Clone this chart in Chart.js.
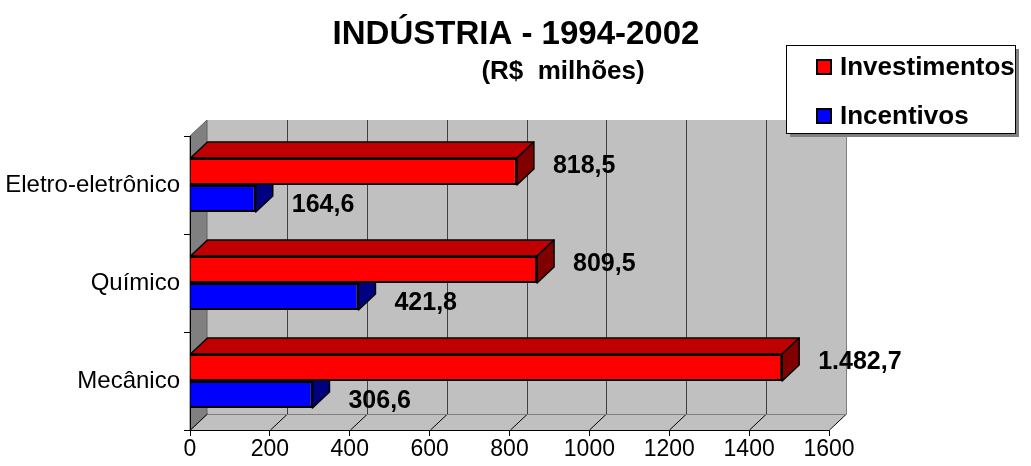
<!DOCTYPE html>
<html>
<head>
<meta charset="utf-8">
<script src="https://cdn.jsdelivr.net/npm/chart.js@4/dist/chart.umd.min.js"></script>
<style>
  html, body { margin: 0; padding: 0; background: #fff; }
  #wrap { width: 1031px; height: 466px; position: relative; }
</style>
</head>
<body>
<div id="wrap"><canvas id="industriaChart"></canvas></div>
<script>
// dados (R$ milhões)
const categorias = ["Eletro-eletrônico", "Químico", "Mecânico"];
const investimentos = [818.5, 869, 1482.7];   // comprimento das barras como desenhadas
const incentivos = [164.6, 421.8, 306.6];
const rotulosInvest = ["818,5", "809,5", "1.482,7"];
const rotulosIncent = ["164,6", "421,8", "306,6"];
const eixoMin = 0;
const eixoMax = 1600;
const eixoPasso = 200;

const FONTE = "'Liberation Sans', Arial, sans-serif";
const PROF = { dx: 17, dy: -16 };

const paredes = {
    id: "paredes",
    beforeDraw(chart) {
        const c = chart.ctx;
        const a = chart.chartArea;
        const xs = chart.scales.x;
        const { dx, dy } = PROF;

        c.save();
        c.fillStyle = "#fff";
        c.fillRect(0, 0, chart.width, chart.height);

        // parede do fundo
        c.fillStyle = "#C0C0C0";
        c.fillRect(a.left + dx, a.top + dy, a.right - a.left, a.bottom - a.top);

        // piso
        c.beginPath();
        c.moveTo(a.left, a.bottom);
        c.lineTo(a.right, a.bottom);
        c.lineTo(a.right + dx, a.bottom + dy);
        c.lineTo(a.left + dx, a.bottom + dy);
        c.closePath();
        c.fillStyle = "#C0C0C0";
        c.fill();

        // parede lateral
        c.beginPath();
        c.moveTo(a.left, a.top);
        c.lineTo(a.left + dx, a.top + dy);
        c.lineTo(a.left + dx, a.bottom + dy);
        c.lineTo(a.left, a.bottom);
        c.closePath();
        c.fillStyle = "#808080";
        c.fill();
        c.strokeStyle = "#606060";
        c.lineWidth = 1;
        c.stroke();

        // linhas de grade
        c.lineWidth = 1;
        xs.ticks.forEach(t => {
            const px = Math.round(xs.getPixelForValue(t.value)) + 0.5;
            if (t.value > eixoMin) {
                c.strokeStyle = t.value === eixoMax ? "#808080" : "#404040";
                c.beginPath();
                c.moveTo(px + dx, a.top + dy);
                c.lineTo(px + dx, a.bottom + dy);
                c.stroke();
            }
            c.strokeStyle = "#000";
            c.beginPath();
            c.moveTo(px, a.bottom);
            c.lineTo(px + dx, a.bottom + dy);
            c.stroke();
        });

        c.strokeStyle = "#808080";
        c.beginPath();
        c.moveTo(a.left + dx, a.bottom + dy + 0.5);
        c.lineTo(a.right + dx, a.bottom + dy + 0.5);
        c.stroke();
        c.restore();
    },

    afterDatasetDraw(chart, args) {
        const c = chart.ctx;
        const ds = chart.data.datasets[args.index];
        const { dx, dy } = PROF;
        c.save();
        c.lineWidth = 1.5;
        c.strokeStyle = "#000";
        c.lineJoin = "round";
        args.meta.data.forEach(el => {
            const p = el.getProps(["x", "y", "base", "height"], true);
            const t = p.y - p.height / 2;
            const b = p.y + p.height / 2;
            // topo
            c.beginPath();
            c.moveTo(p.base, t);
            c.lineTo(p.x, t);
            c.lineTo(p.x + dx, t + dy);
            c.lineTo(p.base + dx, t + dy);
            c.closePath();
            c.fillStyle = ds.corTopo;
            c.fill();
            c.stroke();
            // lateral
            c.beginPath();
            c.moveTo(p.x, t);
            c.lineTo(p.x + dx, t + dy);
            c.lineTo(p.x + dx, b + dy);
            c.lineTo(p.x, b);
            c.closePath();
            c.fillStyle = ds.corLado;
            c.fill();
            c.stroke();
        });
        c.restore();
    },

    afterDatasetsDraw(chart) {
        const c = chart.ctx;
        c.save();
        c.font = "bold 25px " + FONTE;
        c.fillStyle = "#000";
        c.textAlign = "left";
        c.textBaseline = "middle";
        chart.data.datasets.forEach((ds, i) => {
            const meta = chart.getDatasetMeta(i);
            meta.data.forEach((el, j) => {
                const p = el.getProps(["x", "y"], true);
                const off = i === 0 ? -5 : 7;
                c.fillText(ds.rotulos[j], p.x + 36, p.y + off);
            });
        });
        c.restore();
    },

    afterDraw(chart) {
        const c = chart.ctx;
        c.save();
        c.fillStyle = "#000";
        c.textAlign = "center";
        c.textBaseline = "middle";
        c.font = "bold 33px " + FONTE;
        c.fillText("INDÚSTRIA - 1994-2002", 516, 35);
        c.font = "bold 26px " + FONTE;
        c.fillText("(R$  milhões)", 563, 72);

        // legenda
        const lx = 786, ly = 45, lw = 229, lh = 88;
        c.fillStyle = "#808080";
        c.fillRect(lx + 4, ly + 4, lw, lh);
        c.fillStyle = "#fff";
        c.fillRect(lx, ly, lw, lh);
        c.strokeStyle = "#000";
        c.lineWidth = 1;
        c.strokeRect(lx + 0.5, ly + 0.5, lw, lh);

        c.textAlign = "left";
        c.font = "bold 26px " + FONTE;
        chart.data.datasets.forEach((ds, i) => {
            const cy = 67 + i * 49;
            c.fillStyle = ds.backgroundColor;
            c.fillRect(817, cy - 7, 14, 14);
            c.lineWidth = 2;
            c.strokeStyle = "#000";
            c.strokeRect(817, cy - 7, 14, 14);
            c.fillStyle = "#000";
            c.fillText(ds.label, 840, cy + 1);
        });
        c.restore();
    }
};

new Chart(document.getElementById("industriaChart"), {
    type: "bar",
    data: {
        labels: categorias,
        datasets: [
            {
                label: "Investimentos",
                data: investimentos,
                rotulos: rotulosInvest,
                backgroundColor: "#FF0000",
                corTopo: "#C00000",
                corLado: "#800000",
                borderColor: "#000",
                borderWidth: 2
            },
            {
                label: "Incentivos",
                data: incentivos,
                rotulos: rotulosIncent,
                backgroundColor: "#0000FF",
                corTopo: "#0000C0",
                corLado: "#000080",
                borderColor: "#000",
                borderWidth: 2
            }
        ]
    },
    options: {
        indexAxis: "y",
        responsive: true,
        maintainAspectRatio: false,
        animation: false,
        layout: { padding: { top: 136, right: 202, bottom: 0, left: 0 } },
        datasets: {
            bar: { categoryPercentage: 0.55, barPercentage: 1 }
        },
        plugins: {
            legend: { display: false },
            title: { display: false },
            tooltip: { enabled: false }
        },
        scales: {
            x: {
                min: eixoMin,
                max: eixoMax,
                ticks: {
                    stepSize: eixoPasso,
                    color: "#000",
                    padding: 0,
                    font: { family: FONTE, size: 23 },
                    callback: v => String(v)
                },
                grid: { drawOnChartArea: false, tickLength: 6, color: "#000" },
                border: { color: "#000", width: 1 },
                afterFit(s) { s.height = 36; }
            },
            y: {
                ticks: {
                    color: "#000",
                    padding: 4,
                    font: { family: FONTE, size: 24 }
                },
                grid: { drawOnChartArea: false, tickLength: 6, color: "#000", offset: true },
                border: { color: "#000", width: 1 },
                afterFit(s) { s.width = 190; }
            }
        }
    },
    plugins: [paredes]
});
</script>
</body>
</html>
